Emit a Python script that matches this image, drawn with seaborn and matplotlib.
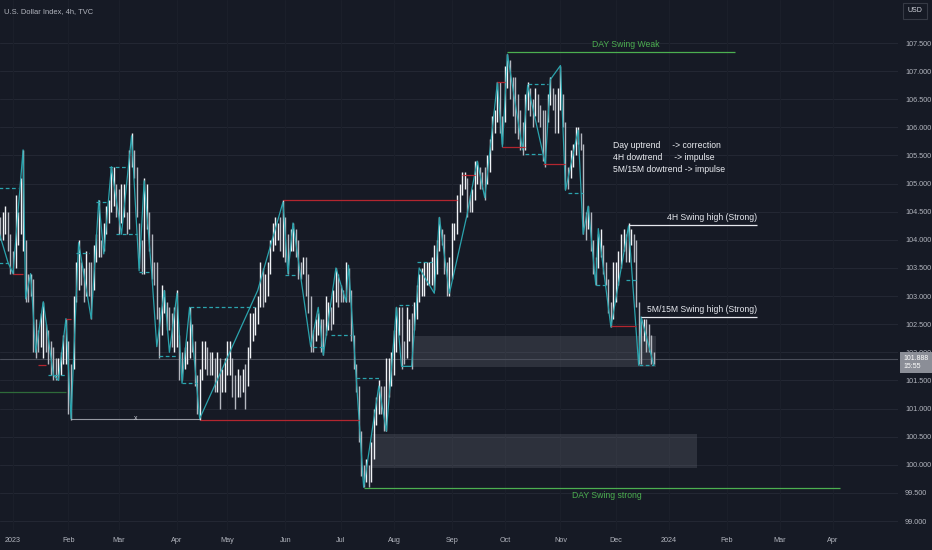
import matplotlib
matplotlib.use("Agg")
import matplotlib.pyplot as plt
import matplotlib.transforms as mtransforms
from matplotlib.patches import Rectangle
import numpy as np
import pandas as pd
import seaborn as sns

# U.S. Dollar Index, one high / low per business day from 2022-12-23 to 2023-12-22
first_day = "2022-12-23"
day_high = [
    104.5, 104.4, 104.5, 104.6, 104.5, 104.1,  # dec 22
    103.8, 104.8, 104.5, 105.1, 105.6, 104.0, 103.4, 103.4, 103.3, 102.6, 102.4,
    102.7, 102.9, 102.5, 102.4, 102.2, 102.1, 101.9, 101.9, 102.0, 102.3, 102.6,  # jan
    102.2, 101.8, 103.0, 103.6, 104.0, 103.6, 103.5, 103.8, 103.6, 103.6,
    103.9, 104.1, 104.7, 104.0, 104.3, 104.6, 104.7, 105.3, 105.3, 105.0,  # feb
    104.9, 105.0, 105.0, 104.5, 105.6, 105.9, 105.6, 105.3, 104.3, 104.0, 105.1, 105.0,
    104.5, 104.1, 103.6, 103.6, 102.8, 103.2, 103.1, 102.9, 102.8, 102.7, 102.8,  # mar
    103.1, 102.3, 102.0, 102.1, 102.2, 102.8, 102.5, 102.2, 101.6, 101.7,
    102.2, 102.2, 102.1, 102.0, 102.0, 101.9, 102.0, 101.9, 101.7, 101.9,  # apr
    102.2, 102.2, 101.9, 101.6, 101.7, 101.6, 101.7, 101.8, 102.1, 102.7, 102.7, 102.8,
    103.0, 103.6, 103.5, 103.4, 103.6, 104.0, 104.3, 104.4, 104.3, 104.4, 104.7,  # may
    104.4, 104.1, 104.2, 104.3, 104.2, 104.0, 103.6, 103.7, 103.7, 103.4, 103.0,
    102.4, 102.6, 102.7, 102.6, 102.6, 103.0, 102.9, 102.8, 103.1, 103.5, 103.4,  # jun
    103.2, 103.1, 103.6, 103.5, 103.1, 102.3, 101.8, 101.4, 100.6, 100.0, 100.1,
    100.0, 100.4, 101.0, 101.2, 101.5, 101.4, 101.4, 101.9, 101.9, 102.0,  # jul
    102.4, 102.8, 102.8, 102.8, 102.2, 102.8, 102.6, 102.7, 102.9, 103.2, 103.4, 103.5,
    103.6, 103.6, 103.6, 103.7, 103.9, 104.0, 104.4, 104.2, 104.1, 103.6, 103.7,  # aug
    104.3, 104.3, 104.8, 105.0, 105.2, 105.2, 105.1, 104.8, 104.9, 105.4, 105.4,
    105.3, 105.2, 105.3, 105.5, 105.8, 106.2, 106.3, 106.8, 106.8, 106.2,  # sep
    107.1, 107.3, 107.2, 106.9, 106.9, 106.6, 106.3, 106.1, 106.6, 106.8, 106.7,
    106.5, 106.7, 106.6, 106.4, 106.3, 106.3, 106.6, 106.9, 106.7, 106.6, 106.7,  # oct
    107.1, 106.6, 106.1, 105.3, 105.6, 105.7, 106.0, 106.0, 105.9, 105.7, 104.5,
    104.6, 104.5, 104.0, 103.7, 104.1, 104.2, 103.9, 103.6, 103.3, 102.9, 103.6,  # nov
    103.6, 103.8, 104.1, 104.2, 104.1, 104.3, 104.2, 104.1, 104.0, 102.9, 102.6,
    102.6, 102.6, 102.5, 102.3, 102.0,  # dec
]
day_low = [
    104.0, 104.0, 104.0, 104.1, 103.8, 103.4,
    103.4, 103.5, 103.9, 104.1, 103.8, 102.9, 102.9, 103.0, 102.0, 101.9, 102.0,
    102.1, 101.9, 102.0, 101.8, 101.6, 101.5, 101.5, 101.5, 101.6, 101.8, 101.8,
    100.9, 100.8, 101.7, 102.9, 103.1, 103.2, 102.9, 103.0, 103.0, 102.6,
    103.1, 103.6, 103.7, 103.7, 103.8, 104.1, 104.3, 104.5, 104.6, 104.4,
    104.1, 104.3, 104.4, 104.1, 104.2, 105.3, 105.1, 104.4, 103.5, 103.4, 103.4, 104.2,
    103.8, 103.3, 103.2, 102.6, 101.9, 102.3, 102.7, 102.4, 102.4, 102.1, 102.0,
    102.1, 101.5, 101.5, 101.7, 101.8, 101.9, 102.0, 101.4, 100.9, 100.8,
    101.5, 101.7, 101.6, 101.6, 101.6, 101.3, 101.3, 101.0, 101.3, 101.3,
    101.6, 101.6, 101.2, 101.0, 101.2, 101.2, 101.3, 101.0, 101.4, 101.9, 102.2, 102.3,
    102.5, 102.8, 102.8, 102.9, 103.0, 103.4, 103.8, 103.9, 104.0, 103.8, 103.7,
    103.6, 103.4, 103.8, 103.8, 103.7, 103.3, 103.3, 103.4, 103.0, 102.7, 102.0,
    102.0, 102.2, 102.3, 102.0, 101.95, 102.3, 102.4, 102.4, 102.5, 102.9, 102.8,
    102.9, 102.9, 102.9, 102.9, 102.2, 101.7, 101.3, 100.4, 99.8, 99.6, 99.7,
    99.6, 99.7, 100.1, 100.7, 100.9, 100.9, 100.6, 100.6, 101.2, 101.4,
    101.6, 102.0, 102.3, 101.7, 101.8, 101.9, 102.2, 101.7, 102.4, 102.6, 102.9, 103.0,
    103.0, 103.2, 103.2, 103.2, 103.1, 103.4, 103.8, 103.9, 103.4, 103.0, 103.0,
    103.3, 104.0, 104.1, 104.5, 104.8, 104.9, 104.4, 104.5, 104.5, 104.7, 105.0,
    104.9, 104.9, 104.7, 105.0, 105.2, 105.6, 105.9, 106.1, 105.9, 105.7,
    106.1, 106.7, 106.5, 106.2, 105.9, 105.8, 105.6, 105.5, 105.6, 106.3, 106.2,
    106.0, 106.2, 106.1, 106.0, 105.4, 105.3, 106.1, 106.4, 106.3, 105.9, 105.9,
    106.3, 106.0, 104.9, 104.9, 105.1, 105.3, 105.5, 105.7, 105.6, 104.1, 104.0,
    104.2, 103.8, 103.4, 103.2, 103.5, 103.7, 103.4, 103.2, 102.7, 102.45, 102.6,
    102.9, 103.2, 103.5, 103.8, 103.6, 103.6, 103.9, 103.6, 102.8, 101.8, 101.8,
    102.2, 102.0, 102.0, 101.8, 101.8,
]
last_price = 101.888
last_time = "15:55"

# swing structure (zigzag through pivots)
pivot_dates = [
    "2022-12-23", "2022-12-29", "2023-01-02", "2023-01-06", "2023-01-09", "2023-01-11",
    "2023-01-13", "2023-01-18", "2023-01-24", "2023-01-26", "2023-01-31", "2023-02-02",
    "2023-02-07", "2023-02-14", "2023-02-17", "2023-02-21", "2023-02-24", "2023-03-02",
    "2023-03-08", "2023-03-13", "2023-03-15", "2023-03-20", "2023-03-22", "2023-03-27",
    "2023-03-29", "2023-04-03", "2023-04-05", "2023-04-10", "2023-04-14", "2023-05-17",
    "2023-05-31", "2023-06-02", "2023-06-06", "2023-06-15", "2023-06-20", "2023-06-22",
    "2023-06-29", "2023-07-05", "2023-07-06", "2023-07-14", "2023-07-24", "2023-07-27",
    "2023-08-02", "2023-08-04", "2023-08-10", "2023-08-15", "2023-08-23", "2023-08-25",
    "2023-08-31", "2023-09-11", "2023-09-15", "2023-09-20", "2023-09-27", "2023-09-29",
    "2023-10-03", "2023-10-11", "2023-10-13", "2023-10-24", "2023-10-26", "2023-11-01",
    "2023-11-03", "2023-11-10", "2023-11-14", "2023-11-16", "2023-11-21", "2023-11-22",
    "2023-11-29", "2023-12-08", "2023-12-14", "2023-12-15", "2023-12-22",
]
pivot_prices = [
    104.2, 103.6, 103.4, 105.6, 102.95, 103.4,
    102.0, 102.9, 101.6, 101.5, 102.6, 100.82,
    103.95, 102.6, 104.7, 103.75, 105.3, 104.1,
    105.85, 103.45, 105.05, 103.4, 102.1, 103.1,
    102.0, 103.05, 101.45, 102.8, 100.82, 103.1,
    104.67, 103.4, 104.3, 102.1, 102.8, 101.95,
    103.5, 102.9, 103.55, 99.6, 101.4, 100.6,
    102.8, 101.75, 101.75, 103.5, 103.05, 104.4,
    103.05, 104.45, 105.4, 104.75, 106.8, 105.65,
    107.3, 105.6, 106.75, 105.35, 106.85, 107.1,
    104.88, 105.95, 104.1, 104.6, 103.2, 104.2,
    102.45, 104.25, 101.77, 102.63, 101.77,
]

# broken structure levels: price, from, to
red_levels = [
    (103.40, "2023-01-02", "2023-01-06"),
    (101.77, "2023-01-16", "2023-01-19"),
    (102.60, "2023-01-31", "2023-02-02"),
    (100.80, "2023-04-14", "2023-07-12"),
    (104.70, "2023-05-31", "2023-09-05"),
    (105.15, "2023-09-07", "2023-09-14"),
    (106.80, "2023-09-27", "2023-10-02"),
    (105.65, "2023-09-29", "2023-10-12"),
    (105.35, "2023-10-23", "2023-11-03"),
    (102.47, "2023-11-29", "2023-12-13"),
]
teal_levels = [
    (104.92, "2022-12-23", "2023-01-04"),
    (103.59, "2022-12-23", "2022-12-29"),
    (101.60, "2023-01-20", "2023-01-31"),
    (103.77, "2023-02-06", "2023-02-13"),
    (104.67, "2023-02-16", "2023-02-22"),
    (105.30, "2023-02-23", "2023-03-06"),
    (104.10, "2023-02-28", "2023-03-10"),
    (103.43, "2023-03-13", "2023-03-17"),
    (101.93, "2023-03-23", "2023-04-03"),
    (101.45, "2023-04-05", "2023-04-13"),
    (102.80, "2023-04-10", "2023-05-16"),
    (103.37, "2023-06-01", "2023-06-07"),
    (102.10, "2023-06-16", "2023-06-22"),
    (102.30, "2023-06-27", "2023-07-07"),
    (101.54, "2023-07-11", "2023-07-25"),
    (102.84, "2023-08-03", "2023-08-10"),
    (103.60, "2023-08-14", "2023-08-22"),
    (106.77, "2023-10-13", "2023-10-25"),
    (105.53, "2023-10-12", "2023-10-23"),
    (104.83, "2023-11-06", "2023-11-14"),
    (103.20, "2023-11-21", "2023-11-27"),
    (103.29, "2023-12-07", "2023-12-13"),
    (101.77, "2023-12-14", "2023-12-22"),
]
# imbalance zones: low, high, from, to
zones = [
    (101.74, 102.29, "2023-08-10", "2023-12-25"),
    (99.94, 100.55, "2023-07-19", "2024-01-16"),
]
# labelled swing levels: text, price, from, to, colour
swing_levels = [
    ("DAY Swing Weak", 107.34, "2023-10-03", "2024-02-06", "#4caf50"),
    ("DAY Swing strong", 99.58, "2023-07-14", "2024-04-04", "#4caf50"),
    ("4H Swing high (Strong)", 104.26, "2023-12-08", "2024-02-19", "#e6e8ee"),
    ("5M/15M Swing high (Strong)", 102.63, "2023-12-15", "2024-02-19", "#e6e8ee"),
]
old_low = (100.82, "2023-02-02", "2023-04-14")
old_green = (101.29, "2022-12-23", "2023-01-31")
note_lines = [
    "Day uptrend     -> correction",
    "4H dowtrend     -> impulse",
    "5M/15M dowtrend -> impulse",
]
note_prices = [105.67, 105.46, 105.25]

bg = "#161a25"
txt = "#b2b5be"
teal = "#2ba3ad"
red = "#b3262f"

sns.set_style("dark")
plt.rcParams["font.family"] = ["Liberation Sans", "DejaVu Sans"]

bars = pd.bdate_range(first_day, periods=len(day_high))
axis_days = pd.bdate_range(first_day, "2024-05-31")


def pos(d):
    return axis_days.searchsorted(pd.Timestamp(d))


fig = plt.figure(figsize=(9.32, 5.5), dpi=100, facecolor=bg)
ax = fig.add_axes([0, 20 / 550, 898 / 932, 530 / 550], facecolor=bg)
ax.set_xlim(0.85, 356.8)
ax.set_ylim(98.84, 108.265)

# grid
yt = np.arange(99.0, 108.0, 0.5)
for v in yt:
    ax.axhline(v, color="#232733", lw=0.8, zorder=0)
months = pd.date_range("2023-01-01", "2024-04-01", freq="MS")
mpos = [pos(m) for m in months]
mlab = [str(m.year) if m.month == 1 else m.strftime("%b") for m in months]
for p in mpos:
    ax.axvline(p, color="#1b1f2a", lw=0.8, zorder=0)

# zones
for lo, hi, d0, d1 in zones:
    ax.add_patch(Rectangle((pos(d0), lo), pos(d1) - pos(d0), hi - lo,
                           facecolor="#8a8e99", alpha=0.2, lw=0, zorder=1))

# last price line
ax.axhline(last_price, color="#4a4e5a", lw=0.8, zorder=1)

# candles (high-low bars)
hi = np.array(day_high)
lo = np.array(day_low)
mid = (hi + lo) / 2
up = np.r_[True, mid[1:] >= mid[:-1]]
xb = np.array([pos(d) for d in bars])
ax.vlines(xb[up], lo[up], hi[up], color="#f0f2f6", lw=1.0, zorder=3)
ax.vlines(xb[~up], lo[~up], hi[~up], color="#b4b7bf", lw=1.0, zorder=3)

# structure zigzag
zz = pd.DataFrame({"x": [pos(d) for d in pivot_dates], "price": pivot_prices})
sns.lineplot(data=zz, x="x", y="price", ax=ax, color=teal, lw=0.9, sort=False,
             estimator=None, zorder=4)

for p, d0, d1 in teal_levels:
    ax.hlines(p, pos(d0), pos(d1), color=teal, lw=0.9, linestyles=(0, (3, 2)), zorder=4)
for p, d0, d1 in red_levels:
    ax.hlines(p, pos(d0), pos(d1), color=red, lw=0.9, zorder=4)

ax.hlines(old_green[0], pos(old_green[1]), pos(old_green[2]), color="#2e6b3a", lw=0.9, zorder=2)
ax.hlines(old_low[0], pos(old_low[1]), pos(old_low[2]), color="#9598a1", lw=0.8, zorder=2)
ax.text((pos(old_low[1]) + pos(old_low[2])) / 2, old_low[0], "x", color="#c8cad2",
        fontsize=5, ha="center", va="center", zorder=5)

for label, p, d0, d1, col in swing_levels:
    x0, x1 = pos(d0), pos(d1)
    ax.hlines(p, x0, x1, color=col, lw=0.9, zorder=4)
    if col == "#4caf50":
        va = "bottom" if p > 104 else "top"
        off = 0.05 if p > 104 else -0.05
        ax.text((x0 + x1) / 2 + 2, p + off, label, color=col, fontsize=6.2,
                ha="center", va=va, zorder=5)
    else:
        ax.text(x1, p + 0.06, label, color=col, fontsize=6.2, ha="right",
                va="bottom", zorder=5)

for line, p in zip(note_lines, note_prices):
    ax.text(pos("2023-11-30"), p, line, color="#eceef3", fontsize=6.2,
            ha="left", va="center", zorder=5)

# axes
ax.set_xticks(mpos)
ax.set_xticklabels(mlab)
ax.set_yticks(yt)
ax.set_yticklabels([f"{v:.3f}" for v in yt])
ax.yaxis.tick_right()
ax.tick_params(axis="both", length=0, colors=txt, labelsize=5.2)
ax.tick_params(axis="y", pad=5)
ax.tick_params(axis="x", pad=5)
ax.set_xlabel("")
ax.set_ylabel("")
for s in ax.spines.values():
    s.set_visible(False)
ax.grid(False)

# last price tag
tr = mtransforms.blended_transform_factory(fig.transFigure, ax.transData)
ax.add_patch(Rectangle((900 / 932, last_price - 0.26), 32 / 932, 0.38, transform=tr,
                       facecolor="#8b8e97", lw=0, zorder=20, clip_on=False))
ax.text(903 / 932, last_price - 0.07, f"{last_price:.3f}\n{last_time}", transform=tr,
        color="white", fontsize=5.0, va="center", ha="left", linespacing=1.05,
        zorder=21, clip_on=False)

fig.text(915 / 932, 1 - 11 / 550, "USD", color="#d1d4dc", fontsize=5.0, ha="center",
         va="center", bbox=dict(boxstyle="square,pad=0.6", fc=bg, ec="#363a45", lw=0.8))
fig.text(4 / 932, 1 - 12 / 550, "U.S. Dollar Index, 4h, TVC", color=txt, fontsize=5.4,
         ha="left", va="center")

fig.savefig("out.png", dpi=100, facecolor=bg)
